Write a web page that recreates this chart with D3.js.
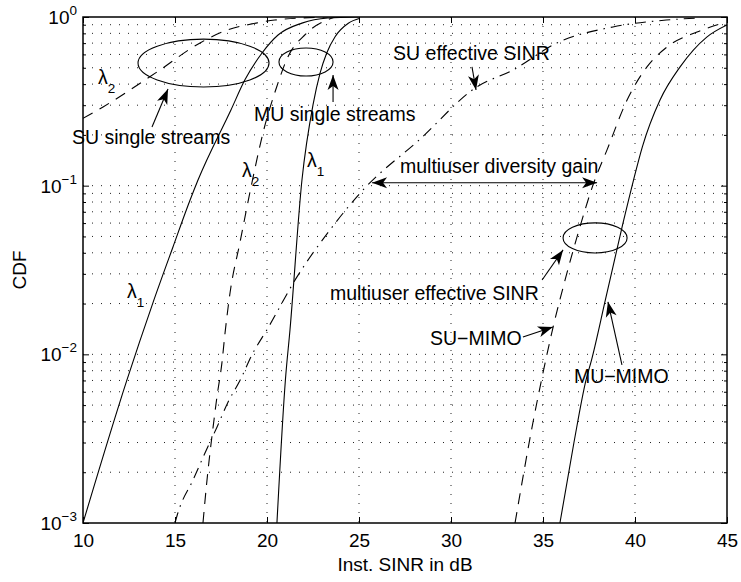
<!DOCTYPE html>
<html>
<head>
<meta charset="utf-8">
<script src="https://cdn.jsdelivr.net/npm/d3@7"></script>
<style>
    body { margin: 0; background: #fff; }
    text { font-family: "Liberation Sans", Arial, Helvetica, sans-serif; fill: #000; }
</style>
</head>
<body>
<div id="cdf-chart"></div>
<script>
const width = 741
const height = 582
const plot = {left: 83, right: 727, top: 17, bottom: 523}

// tick labels
const xTicks = [10, 15, 20, 25, 30, 35, 40, 45]
const yTickExponents = [-3, -2, -1, 0]

// SU single streams (x in dB, y = CDF)
const suLambda1X = [10, 12.39, 13.8, 14.89, 15.82, 16.25, 18.04, 18.8, 19.73, 20.6, 21.9, 23.3, 24.95]
const suLambda1Cdf = [0.001, 0.00705, 0.0202, 0.0433, 0.0822, 0.108, 0.281, 0.424, 0.612, 0.782, 0.92, 0.986, 1]
const suLambda2X = [10, 11.09, 14.02, 16.36, 17.85, 19.17, 20.43, 23.3]
const suLambda2Cdf = [0.251, 0.293, 0.472, 0.702, 0.838, 0.91, 0.959, 1]

// MU single streams
const muLambda1X = [20.54, 21.0, 21.25, 21.9, 22.5, 22.88, 23.24, 23.7, 24.42, 25.05]
const muLambda1Cdf = [0.001, 0.00705, 0.014, 0.108, 0.301, 0.463, 0.61, 0.764, 0.918, 0.982]
const muLambda2X = [16.52, 16.74, 16.9, 17.07, 17.28, 17.55, 17.72, 17.99, 18.53, 19.18, 19.78, 20.53, 21.1, 22.1, 23.7]
const muLambda2Cdf = [0.001, 0.0018, 0.0026, 0.0037, 0.0056, 0.0089, 0.0134, 0.0231, 0.046, 0.104, 0.205, 0.386, 0.569, 0.792, 1]

// SU effective SINR
const suEffX = [15.0, 15.16, 15.98, 16.63, 17.28, 17.88, 18.53, 19.24, 20.0, 21.63, 23.42, 25.22, 28.28, 31.4, 33.37, 35.76, 38.8, 41.7, 43.4]
const suEffCdf = [0.001, 0.00115, 0.0018, 0.0026, 0.0037, 0.0052, 0.007, 0.0102, 0.014, 0.0288, 0.0546, 0.0944, 0.187, 0.385, 0.485, 0.702, 0.873, 0.959, 0.986]

// multiuser effective SINR
const suMimoX = [33.48, 34.48, 34.92, 35.55, 36.2, 36.85, 37.76, 38.48, 39.57, 40.65, 41.74, 43.37, 44.78]
const suMimoCdf = [0.001, 0.00408, 0.00705, 0.0145, 0.0276, 0.0497, 0.104, 0.163, 0.322, 0.506, 0.664, 0.815, 0.92]
const muMimoX = [35.92, 36.68, 37.34, 37.64, 38.39, 39.35, 39.92, 40.4, 41.36, 42.45, 43.9, 45]
const muMimoCdf = [0.001, 0.00299, 0.00705, 0.00927, 0.021, 0.0601, 0.108, 0.17, 0.322, 0.506, 0.76, 0.897]

// annotations, placed in data units: [dB, CDF]
const ellipses = [
    {cx: 16.55, cy: 0.533, rxDb: 3.56, ryDec: 0.142},
    {cx: 22.12, cy: 0.541, rxDb: 1.47, ryDec: 0.083},
    {cx: 37.83, cy: 0.049, rxDb: 1.74, ryDec: 0.089}
]
const notes = [
    {text: "SU single streams", x: 9.40, y: 0.1766},
    {text: "MU single streams", x: 19.29, y: 0.242},
    {text: "SU effective SINR", x: 26.85, y: 0.556},
    {text: "multiuser diversity gain", x: 27.23, y: 0.119},
    {text: "multiuser effective SINR", x: 23.42, y: 0.021},
    {text: "SU\u2212MIMO", x: 28.86, y: 0.01138},
    {text: "MU\u2212MIMO", x: 36.68, y: 0.00676}
]
const lambdaLabels = [
    {sub: "2", x: 10.82, y: 0.401},
    {sub: "2", x: 18.64, y: 0.1127},
    {sub: "1", x: 22.17, y: 0.129},
    {sub: "1", x: 12.39, y: 0.0216}
]
// tail -> tip
const arrows = [
    {x1: 13.75, y1: 0.223, x2: 14.62, y2: 0.374},
    {x1: 23.59, y1: 0.313, x2: 23.59, y2: 0.453},
    {x1: 31.14, y1: 0.506, x2: 31.36, y2: 0.369},
    {x1: 34.95, y1: 0.0276, x2: 36.09, y2: 0.0416},
    {x1: 33.91, y1: 0.01268, x2: 35.54, y2: 0.01452},
    {x1: 39.29, y1: 0.00865, x2: 38.53, y2: 0.02047}
]
const gainArrow = {x1: 25.71, x2: 37.94, y: 0.104}

const svg = d3.select("#cdf-chart")
    .append("svg")
    .attr("width", width)
    .attr("height", height)

const x = d3.scaleLinear().domain([10, 45]).range([plot.left, plot.right])
const y = d3.scaleLog().domain([1e-3, 1]).range([plot.bottom, plot.top])

const yMajor = yTickExponents.map(e => Math.pow(10, e))
const yMinor = y.ticks().filter(v => !yMajor.some(m => Math.abs(m - v) < 1e-12))

// dotted grid
const grid = svg.append("g")
    .attr("stroke", "#222")
    .attr("stroke-width", 1)
    .attr("stroke-dasharray", "1,8")

grid.selectAll(".vgrid")
    .data(xTicks.slice(1, -1))
    .join("line")
    .attr("x1", d => x(d)).attr("x2", d => x(d))
    .attr("y1", plot.top).attr("y2", plot.bottom)

grid.selectAll(".hgrid")
    .data(y.ticks().filter(v => v > 1e-3 && v < 1))
    .join("line")
    .attr("x1", plot.left).attr("x2", plot.right)
    .attr("y1", d => y(d)).attr("y2", d => y(d))

// axes with inward ticks (matlab style)
function axisGroup(axis, tx, ty) {
    const g = svg.append("g")
        .attr("transform", "translate(" + tx + "," + ty + ")")
        .call(axis)
    g.select(".domain").remove()
    g.selectAll(".tick line").attr("stroke", "#000")
    return g
}

const bottomAxis = axisGroup(d3.axisBottom(x).tickValues(xTicks).tickSize(-6).tickPadding(10.5).tickFormat(d3.format("d")), 0, plot.bottom)
bottomAxis.selectAll("text")
    .style("font-size", "19px")
    .style("font-family", "'Liberation Sans', Arial, sans-serif")

axisGroup(d3.axisTop(x).tickValues(xTicks).tickSize(-6).tickFormat(""), 0, plot.top)
axisGroup(d3.axisLeft(y).tickValues(yMajor).tickSize(-6).tickFormat(""), plot.left, 0)
axisGroup(d3.axisLeft(y).tickValues(yMinor).tickSize(-3).tickFormat(""), plot.left, 0)
axisGroup(d3.axisRight(y).tickValues(yMajor).tickSize(-6).tickFormat(""), plot.right, 0)
axisGroup(d3.axisRight(y).tickValues(yMinor).tickSize(-3).tickFormat(""), plot.right, 0)

// y tick labels 10^n
svg.append("g").selectAll("text")
    .data(yTickExponents)
    .join("text")
    .attr("x", plot.left - 6)
    .attr("y", d => y(Math.pow(10, d)) + 7)
    .attr("text-anchor", "end")
    .style("font-size", "19px")
    .each(function(d) {
        const t = d3.select(this)
        t.append("tspan").text("10")
        t.append("tspan")
            .attr("dy", -9)
            .style("font-size", "13.5px")
            .text(d < 0 ? "\u2212" + Math.abs(d) : String(d))
    })

// axis box
svg.append("rect")
    .attr("x", plot.left).attr("y", plot.top)
    .attr("width", plot.right - plot.left)
    .attr("height", plot.bottom - plot.top)
    .attr("fill", "none")
    .attr("stroke", "#000")
    .attr("stroke-width", 1.5)

// axis titles
svg.append("text")
    .attr("x", (plot.left + plot.right) / 2)
    .attr("y", 571)
    .attr("text-anchor", "middle")
    .style("font-size", "19px")
    .text("Inst. SINR in dB")

svg.append("text")
    .attr("transform", "translate(26," + (plot.top + plot.bottom) / 2 + ") rotate(-90)")
    .attr("text-anchor", "middle")
    .style("font-size", "19px")
    .text("CDF")

// curves
svg.append("clipPath").attr("id", "plot-clip")
    .append("rect")
    .attr("x", plot.left).attr("y", plot.top)
    .attr("width", plot.right - plot.left)
    .attr("height", plot.bottom - plot.top)

const line = d3.line()
    .x(d => x(d[0]))
    .y(d => y(d[1]))
    .curve(d3.curveMonotoneX)

const series = [
    {xs: suLambda1X, ys: suLambda1Cdf, dash: null},
    {xs: suLambda2X, ys: suLambda2Cdf, dash: "11,8"},
    {xs: muLambda1X, ys: muLambda1Cdf, dash: null},
    {xs: muLambda2X, ys: muLambda2Cdf, dash: "11,8"},
    {xs: suEffX, ys: suEffCdf, dash: "11,6,1.5,6"},
    {xs: suMimoX, ys: suMimoCdf, dash: "11,8"},
    {xs: muMimoX, ys: muMimoCdf, dash: null}
]

svg.append("g")
    .attr("clip-path", "url(#plot-clip)")
    .selectAll("path")
    .data(series)
    .join("path")
    .attr("d", s => line(s.xs.map((v, i) => [v, s.ys[i]])))
    .attr("fill", "none")
    .attr("stroke", "#000")
    .attr("stroke-width", 1.1)
    .attr("stroke-dasharray", s => s.dash)

// annotations
const ann = svg.append("g")

ann.selectAll("ellipse")
    .data(ellipses)
    .join("ellipse")
    .attr("cx", d => x(d.cx))
    .attr("cy", d => y(d.cy))
    .attr("rx", d => x(d.cx + d.rxDb) - x(d.cx))
    .attr("ry", d => y(d.cy / Math.pow(10, d.ryDec)) - y(d.cy))
    .attr("fill", "none")
    .attr("stroke", "#000")
    .attr("stroke-width", 1.1)

ann.selectAll(".note")
    .data(notes)
    .join("text")
    .attr("class", "note")
    .attr("x", d => x(d.x))
    .attr("y", d => y(d.y))
    .style("font-size", "19.5px")
    .text(d => d.text)

ann.selectAll(".lambda")
    .data(lambdaLabels)
    .join("text")
    .attr("class", "lambda")
    .attr("x", d => x(d.x))
    .attr("y", d => y(d.y))
    .style("font-size", "19.5px")
    .each(function(d) {
        const t = d3.select(this)
        t.append("tspan").text("\u03bb")
        t.append("tspan").attr("dy", 9).style("font-size", "13.5px").text(d.sub)
    })

// arrow with filled head at the tip
function drawHead(tipX, tipY, fromX, fromY) {
    const ang = Math.atan2(tipY - fromY, tipX - fromX) * 180 / Math.PI
    ann.append("path")
        .attr("d", "M0,0 L-15,-5.5 L-11,0 L-15,5.5 Z")
        .attr("transform", "translate(" + tipX + "," + tipY + ") rotate(" + ang + ")")
        .attr("fill", "#000")
}

function drawArrow(x1, y1, x2, y2, both) {
    ann.append("line")
        .attr("x1", x1).attr("y1", y1)
        .attr("x2", x2).attr("y2", y2)
        .attr("stroke", "#000")
        .attr("stroke-width", 1.1)
    drawHead(x2, y2, x1, y1)
    if (both) drawHead(x1, y1, x2, y2)
}

arrows.forEach(a => drawArrow(x(a.x1), y(a.y1), x(a.x2), y(a.y2), false))
drawArrow(x(gainArrow.x1), y(gainArrow.y), x(gainArrow.x2), y(gainArrow.y), true)
</script>
</body>
</html>
